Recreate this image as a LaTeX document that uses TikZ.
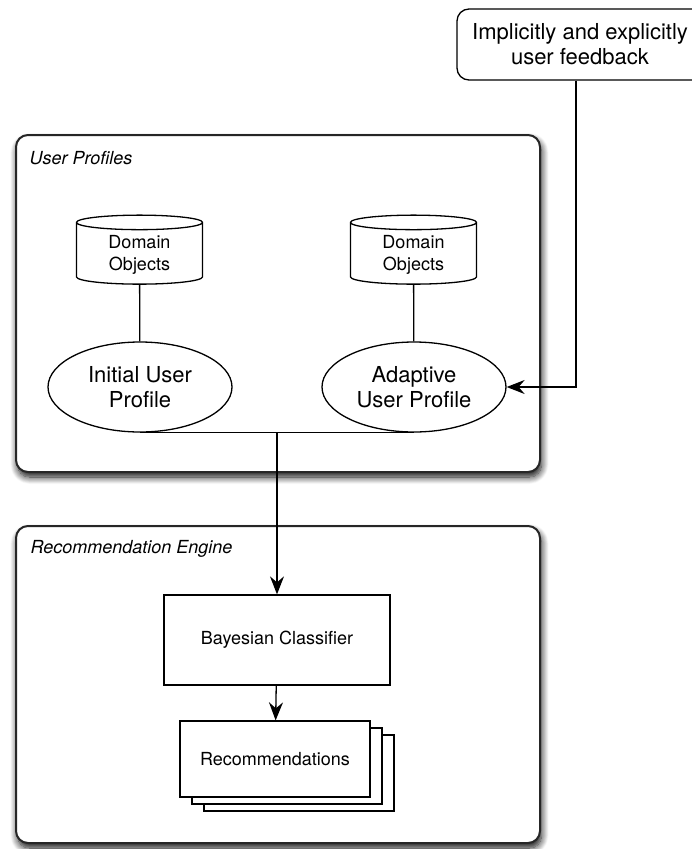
\documentclass[tikz,border=0pt]{standalone}
\usepackage{fontspec}
\setmainfont{TeX Gyre Heros}
\usetikzlibrary{arrows.meta, shapes.geometric, shadows, shadows.blur}

\begin{document}
\begin{tikzpicture}[x=1pt, y=-1pt, line width=1.3pt, font=\fontsize{18}{22}\selectfont]
	\tikzstyle{panel}=[draw=black!85, line width=2pt, rounded corners=12pt, fill=white, minimum width=524pt,
		blur shadow={shadow xshift=1.5pt, shadow yshift=-5pt, shadow blur radius=7pt, shadow blur steps=10, shadow opacity=95}]
	\tikzstyle{paneltitle}=[anchor=west, inner sep=0pt, font=\fontsize{18}{22}\selectfont\itshape]
	\tikzstyle{db}=[draw, fill=white, cylinder, shape border rotate=90, aspect=0.22, minimum width=126pt, minimum height=69pt, align=center, inner sep=2pt]
	\tikzstyle{profile}=[draw, fill=white, ellipse, minimum width=184pt, minimum height=90pt, align=center, inner sep=0pt, font=\fontsize{22}{25}\selectfont]
	\tikzstyle{arr}=[-{Stealth[length=18pt, width=14pt, inset=6pt]}]
	\useasboundingbox (0, 0) rectangle (691, 849);

	% panels
	\node[panel, minimum height=337pt] at (278, 303.5) (up) {};
	\node[paneltitle] at (29, 158) (uptitle) {User Profiles};
	\node[panel, minimum height=317pt] at (278, 684.5) (re) {};
	\node[paneltitle] at (30, 549) (retitle) {Recommendation Engine};

	% feedback, cut off at the right edge
	\node[draw, rounded corners=12pt, minimum width=273pt, minimum height=71pt,
		label={[xshift=-13.5pt, align=center, font=\fontsize{22}{25}\selectfont]center:Implicitly and explicitly\\user feedback}] at (593.5, 44.5) (fb) {};

	% user profiles
	\node[db] at (139.5, 254.5) (dbl) {Domain\\Objects};
	\node[db] at (413.5, 254.5) (dbr) {Domain\\Objects};
	\node[profile] at (140, 387) (ip) {Initial User\\Profile};
	\node[profile] at (414, 387) (ap) {Adaptive\\User Profile};

	% recommendation engine
	\node[draw, fill=white, minimum width=226pt, minimum height=90pt] at (277, 640) (bc) {Bayesian Classifier};
	\node[draw, fill=white, minimum width=190pt, minimum height=76pt, double copy shadow={shadow xshift=12pt, shadow yshift=-7pt}] at (275, 759) (rec) {Recommendations};

	\draw (dbl) -- (ip);
	\draw (dbr) -- (ap);
	\draw[arr] ([xshift=-17.5pt]fb.south) |- (ap.east);
	\draw (ip.south) -- (ap.south);
	\coordinate (join) at (bc.north |- ip.south);
	\draw[arr] (join) -- (bc.north);
	\draw[arr] (bc) -- (rec);
\end{tikzpicture}
\end{document}
